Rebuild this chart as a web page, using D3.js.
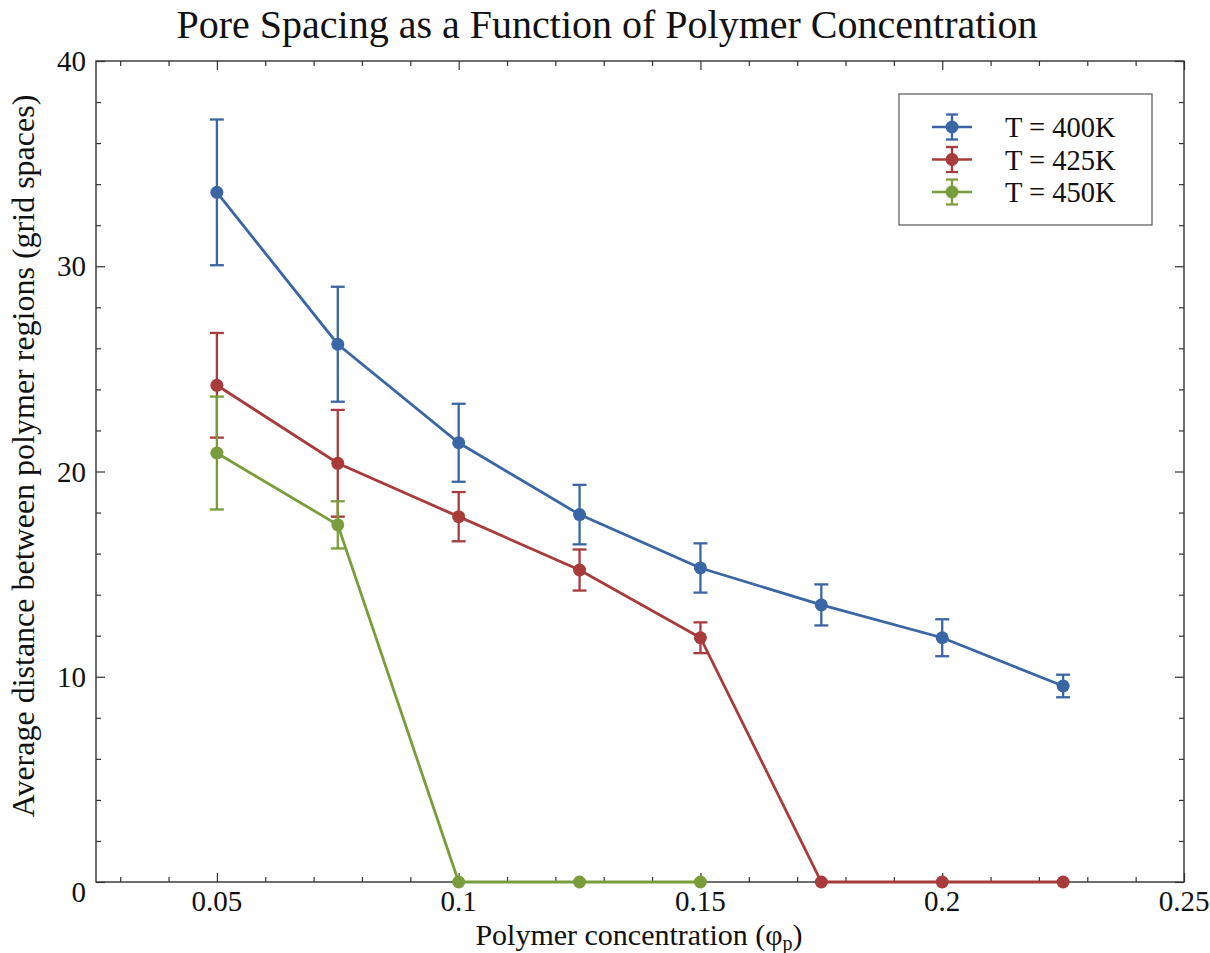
<!DOCTYPE html>
<html>
<head>
<meta charset="utf-8">
<script src="https://cdn.jsdelivr.net/npm/d3@7"></script>
<style>
body { margin: 0; background: #fff; }
text { font-family: "Liberation Serif", "Times New Roman", serif; fill: #111; }
</style>
</head>
<body>
<script>
// data
const conc = [0.05, 0.075, 0.1, 0.125, 0.15, 0.175, 0.2, 0.225];
const t400 = [33.6, 26.2, 21.4, 17.9, 15.3, 13.5, 11.9, 9.55];
const t400err = [3.55, 2.8, 1.9, 1.45, 1.2, 1.0, 0.9, 0.55];
const t425 = [24.2, 20.4, 17.8, 15.2, 11.9, 0, 0, 0];
const t425err = [2.55, 2.6, 1.2, 1.0, 0.75, 0, 0, 0];
const t450 = [20.9, 17.4, 0, 0, 0];
const t450err = [2.75, 1.15, 0, 0, 0];
const labels = ["T = 400K", "T = 425K", "T = 450K"];
const colors = ["#3b66a6", "#a83b3b", "#7a9d3b"];
const xTicks = [0.05, 0.1, 0.15, 0.2, 0.25];
const yTicks = [0, 10, 20, 30, 40];

const W = 1210, H = 953;
const m = {left: 96, right: 26, top: 61, bottom: 71};

const svg = d3.select("body").append("svg")
  .attr("width", W)
  .attr("height", H)

const x = d3.scaleLinear().domain([0.025, 0.25]).range([m.left, W - m.right]);
const y = d3.scaleLinear().domain([0, 40]).range([H - m.bottom, m.top]);

// frame with inward ticks on all four sides
const minorX = d3.range(0.03, 0.2501, 0.01).filter(v => !xTicks.some(t => Math.abs(t - v) < 1e-6));
const minorY = d3.range(2, 40, 2).filter(v => v % 10 != 0);

function ticksAt(g, axis, vals, len) {
  g.call(axis.tickValues(vals).tickSize(len).tickFormat(""))
  g.select(".domain").remove()
  g.selectAll("line").attr("stroke", "#333").attr("stroke-width", 1.2)
}

const gBottom = svg.append("g").attr("transform", `translate(0,${y(0)})`);
ticksAt(gBottom.append("g"), d3.axisTop(x), xTicks, 9);
ticksAt(gBottom.append("g"), d3.axisTop(x), minorX, 5);
const gTop = svg.append("g").attr("transform", `translate(0,${y(40)})`);
ticksAt(gTop.append("g"), d3.axisBottom(x), xTicks, 9);
ticksAt(gTop.append("g"), d3.axisBottom(x), minorX, 5);
const gLeft = svg.append("g").attr("transform", `translate(${x(0.025)},0)`);
ticksAt(gLeft.append("g"), d3.axisRight(y), yTicks, 9);
ticksAt(gLeft.append("g"), d3.axisRight(y), minorY, 5);
const gRight = svg.append("g").attr("transform", `translate(${x(0.25)},0)`);
ticksAt(gRight.append("g"), d3.axisLeft(y), yTicks, 9);
ticksAt(gRight.append("g"), d3.axisLeft(y), minorY, 5);

svg.append("rect")
  .attr("x", x(0.025)).attr("y", y(40))
  .attr("width", x(0.25) - x(0.025)).attr("height", y(0) - y(40))
  .attr("fill", "none").attr("stroke", "#333").attr("stroke-width", 1.4)

// tick labels
svg.selectAll(".xl").data(xTicks).enter().append("text")
  .attr("x", d => x(d)).attr("y", y(0) + 29)
  .attr("text-anchor", "middle")
  .style("font-size", "29px")
  .text(d => d)
svg.selectAll(".yl").data(yTicks).enter().append("text")
  .attr("x", x(0.025) - 10).attr("y", d => y(d) + (d == 0 ? 20 : 10))
  .attr("text-anchor", "end")
  .style("font-size", "29px")
  .text(d => d)

// series
const series = [t400, t425, t450].map((vals, i) => ({
  name: labels[i],
  color: colors[i],
  pts: vals.map((v, j) => ({x: conc[j], y: v, e: [t400err, t425err, t450err][i][j]}))
}));

const line = d3.line().x(d => x(d.x)).y(d => y(d.y));
const cap = 7;

series.forEach(s => {
  const g = svg.append("g")
  g.append("path").datum(s.pts)
    .attr("d", line)
    .attr("fill", "none")
    .attr("stroke", s.color)
    .attr("stroke-width", 2.8)
  const eb = g.selectAll(".eb").data(s.pts.filter(d => d.e > 0)).enter().append("g")
  eb.append("line")
    .attr("x1", d => x(d.x)).attr("x2", d => x(d.x))
    .attr("y1", d => y(d.y + d.e)).attr("y2", d => y(d.y - d.e))
  eb.append("line")
    .attr("x1", d => x(d.x) - cap).attr("x2", d => x(d.x) + cap)
    .attr("y1", d => y(d.y + d.e)).attr("y2", d => y(d.y + d.e))
  eb.append("line")
    .attr("x1", d => x(d.x) - cap).attr("x2", d => x(d.x) + cap)
    .attr("y1", d => y(d.y - d.e)).attr("y2", d => y(d.y - d.e))
  eb.selectAll("line").attr("stroke", s.color).attr("stroke-width", 2.3)
  g.selectAll("circle").data(s.pts).enter().append("circle")
    .attr("cx", d => x(d.x)).attr("cy", d => y(d.y))
    .attr("r", 6.5)
    .attr("fill", s.color)
});

// legend
const lg = svg.append("g").attr("transform", "translate(899,94)")
lg.append("rect")
  .attr("width", 253).attr("height", 131)
  .attr("fill", "#fff").attr("stroke", "#555").attr("stroke-width", 1.2)
series.forEach((s, i) => {
  const row = lg.append("g").attr("transform", `translate(53,${33 + i * 32.5})`)
  row.append("line").attr("x1", -20).attr("x2", 20).attr("y1", 0).attr("y2", 0)
  row.append("line").attr("x1", 0).attr("x2", 0).attr("y1", -12.5).attr("y2", 12.5)
  row.append("line").attr("x1", -6).attr("x2", 6).attr("y1", -12.5).attr("y2", -12.5)
  row.append("line").attr("x1", -6).attr("x2", 6).attr("y1", 12.5).attr("y2", 12.5)
  row.selectAll("line").attr("stroke", s.color).attr("stroke-width", 2.3)
  row.append("circle").attr("r", 6.5).attr("fill", s.color)
  row.append("text")
    .attr("x", 53).attr("y", 10)
    .style("font-size", "28.5px")
    .text(s.name)
});

// titles
svg.append("text")
  .attr("x", 607).attr("y", 38)
  .attr("text-anchor", "middle")
  .style("font-size", "40px")
  .text("Pore Spacing as a Function of Polymer Concentration")

const xl = svg.append("text")
  .attr("x", 639).attr("y", 945)
  .attr("text-anchor", "middle")
  .style("font-size", "30px")
xl.append("tspan").text("Polymer concentration (φ")
xl.append("tspan").attr("dy", 5).style("font-size", "20px").text("p")
xl.append("tspan").attr("dy", -5).text(")")

svg.append("text")
  .attr("transform", `translate(34,456) rotate(-90)`)
  .attr("text-anchor", "middle")
  .style("font-size", "32px")
  .text("Average distance between polymer regions (grid spaces)")
</script>
</body>
</html>
